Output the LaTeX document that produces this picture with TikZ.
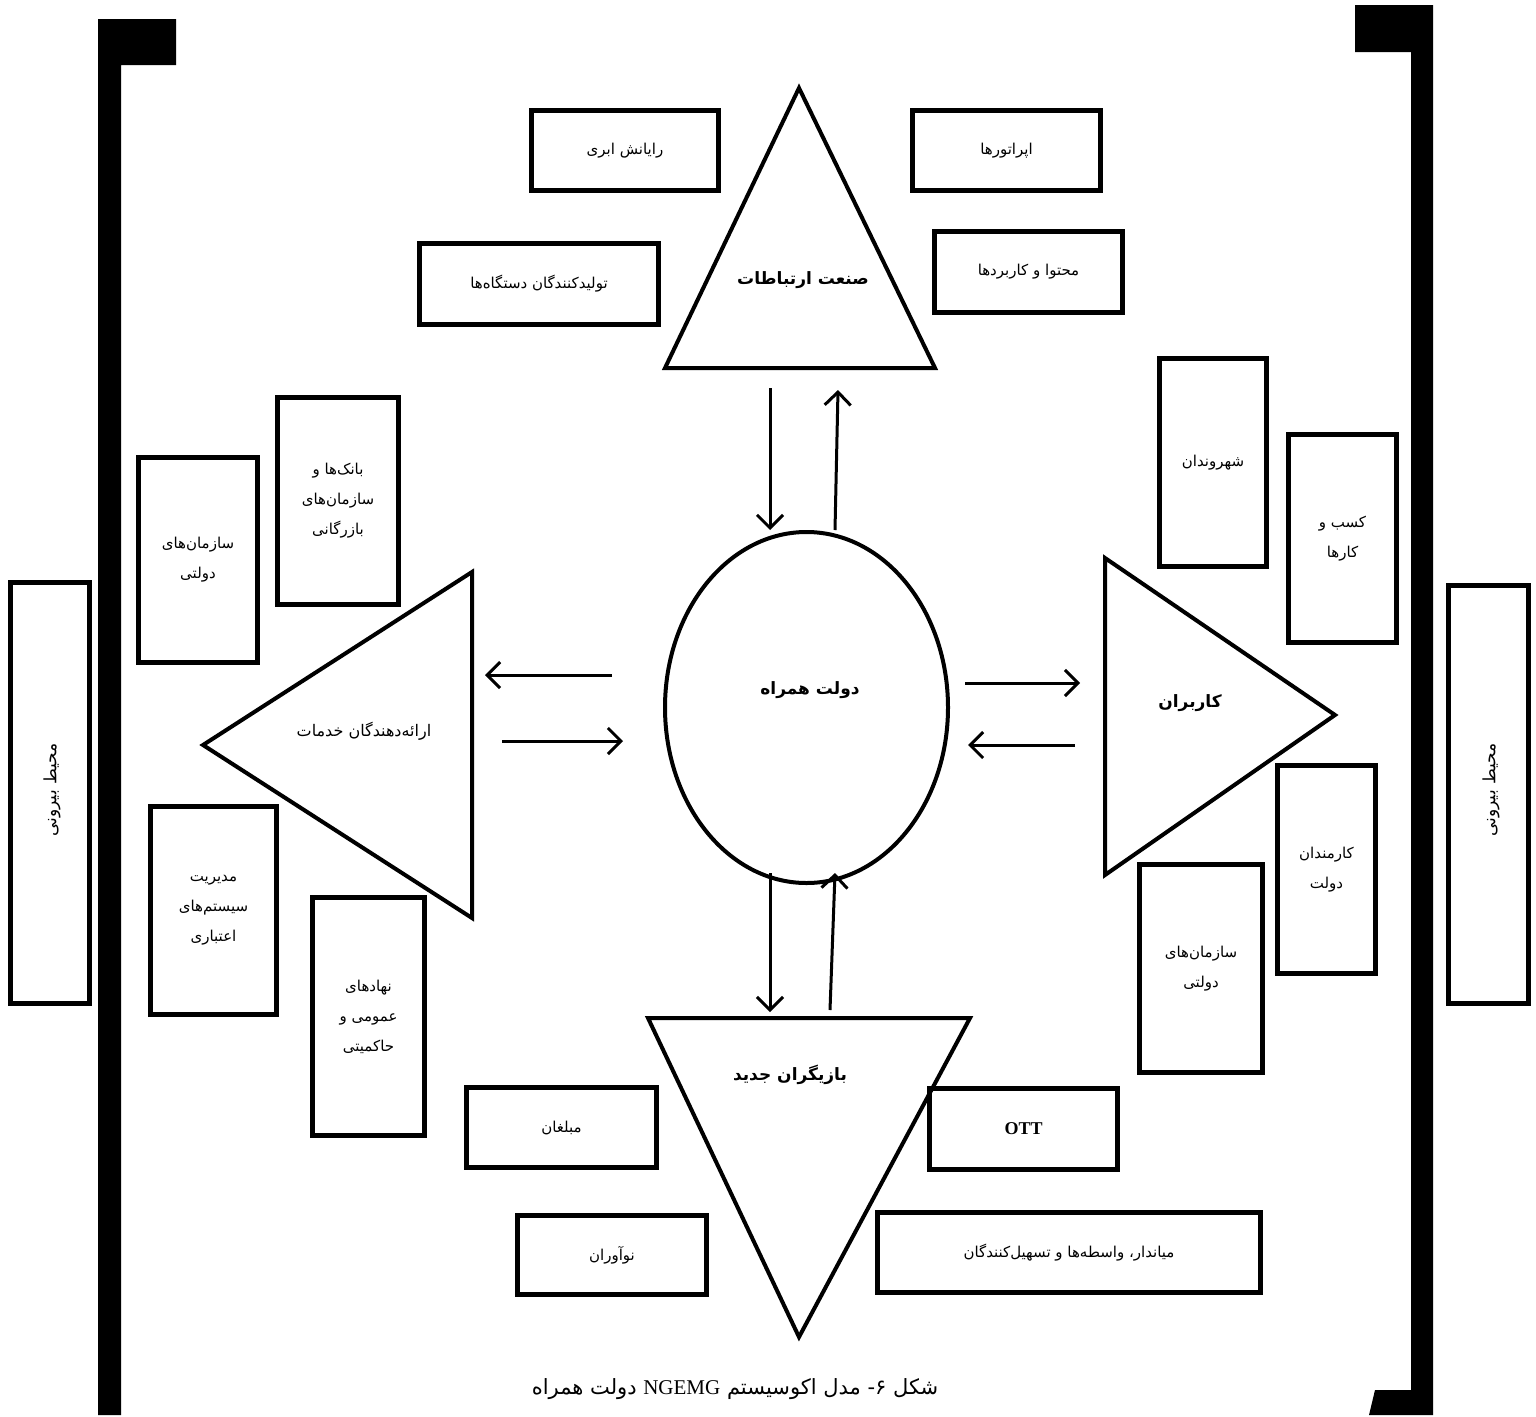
\documentclass[tikz,border=0pt]{standalone}
\usepackage{fontspec}
\usetikzlibrary{arrows.meta,shapes.geometric}
\TeXXeTstate=1
\newfontfamily\fa[Script=Arabic]{DejaVu Sans}
\newfontfamily\lat{Liberation Serif}
\newcommand{\fat}[1]{\beginR #1\endR}

\begin{document}
\begin{tikzpicture}[x=1pt,y=-1pt,>={Straight Barb[length=13pt,width=26pt]},line join=miter,
	box/.style={draw,line width=5.5pt,inner sep=0pt,align=center,font=\fa\fontsize{15}{30}\selectfont},
	tri/.style={draw,line width=4pt},
	link/.style={->,line width=3pt},
	lbl/.style={font=\fa\bfseries\fontsize{17}{20}\selectfont}]
	\useasboundingbox (0,0) rectangle (1536,1416);
	% frame
	\fill (98,19)--(176,19)--(176,65)--(121,65)--(121,1415)--(98,1415)--cycle;
	\fill (1355,5)--(1433,5)--(1433,1415)--(1369,1415)--(1375,1390)--(1411,1390)--(1411,52)--(1355,52)--cycle;
	\node[box,minimum width=79,minimum height=421] (envL) at (50,793) {};
	\node[box,minimum width=80,minimum height=418] (envR) at (1488.5,794.5) {};
	\node[font=\fa\fontsize{17}{20}\selectfont,rotate=90] (envLt) at (52,790) {\fat{محیط بیرونی}};
	\node[font=\fa\fontsize{17}{20}\selectfont,rotate=90] (envRt) at (1491,790) {\fat{محیط بیرونی}};
	% centre
	\node[ellipse,draw,line width=4pt,minimum width=283,minimum height=351] (mgov) at (806.5,707.5) {};
	\node[lbl] (mgovt) at (810,690) {\fat{دولت همراه}};
	% telecom
	\draw[tri] (799,88)--(935,368)--(665,368)--cycle;
	\node[lbl] (tele) at (803,280) {\fat{صنعت ارتباطات}};
	\node[box,minimum width=187,minimum height=80] (cloud) at (625,150.5) {\fat{رایانش ابری}};
	\node[box,minimum width=188,minimum height=80] (oper) at (1006.5,150.5) {\fat{اپراتورها}};
	\node[box,minimum width=239,minimum height=81] (device) at (539,284) {\fat{تولیدکنندگان دستگاه‌ها}};
	\node[box,minimum width=188,minimum height=81] (content) at (1028.5,272) {\fat{محتوا و کاربردها}};
	% providers
	\draw[tri] (203,745)--(472,572)--(472,918)--cycle;
	\node[font=\fa\fontsize{16}{20}\selectfont] (prov) at (364,731) {\fat{ارائه‌دهندگان خدمات}};
	\node[box,minimum width=119,minimum height=205] (govL) at (198,560) {\fat{سازمان‌های}\\\fat{دولتی}};
	\node[box,minimum width=121,minimum height=207] (bank) at (338,501) {\fat{بانک‌ها و}\\\fat{سازمان‌های}\\\fat{بازرگانی}};
	\node[box,minimum width=126,minimum height=208] (credit) at (213.5,910.5) {\fat{مدیریت}\\\fat{سیستم‌های}\\\fat{اعتباری}};
	\node[box,minimum width=112,minimum height=238] (public) at (368.5,1016.5) {\fat{نهادهای}\\\fat{عمومی و}\\\fat{حاکمیتی}};
	% users
	\draw[tri] (1105,558)--(1335,715)--(1105,875)--cycle;
	\node[lbl] (users) at (1190,703) {\fat{کاربران}};
	\node[box,minimum width=107,minimum height=208] (citizen) at (1213,462.5) {\fat{شهروندان}};
	\node[box,minimum width=108,minimum height=208] (biz) at (1342.5,538.5) {\fat{کسب و}\\\fat{کارها}};
	\node[box,minimum width=98,minimum height=208] (staff) at (1326.5,869.5) {\fat{کارمندان}\\\fat{دولت}};
	\node[box,minimum width=123,minimum height=208] (govR) at (1201,968.5) {\fat{سازمان‌های}\\\fat{دولتی}};
	% new players
	\draw[tri] (648,1018)--(970,1018)--(799,1337)--cycle;
	\node[lbl] (newp) at (790,1075) {\fat{بازیگران جدید}};
	\node[box,minimum width=190,minimum height=80] (promo) at (561.5,1127.5) {\fat{مبلغان}};
	\node[box,minimum width=188,minimum height=81,font=\lat\bfseries\fontsize{18}{20}\selectfont] (ott) at (1023.5,1129) {OTT};
	\node[box,minimum width=189,minimum height=79] (innov) at (612,1255) {\fat{نوآوران}};
	\node[box,minimum width=383,minimum height=80] (broker) at (1069,1252.5) {\fat{میاندار، واسطه‌ها و تسهیل‌کنندگان}};
	% flows
	\coordinate (a1) at (770,388); \coordinate (a2) at (770,530);
	\coordinate (b1) at (835,530); \coordinate (b2) at (838,390);
	\coordinate (c1) at (612,675); \coordinate (c2) at (485,675);
	\coordinate (d1) at (502,741); \coordinate (d2) at (623,741);
	\coordinate (e1) at (965,683); \coordinate (e2) at (1080,683);
	\coordinate (f1) at (1075,745); \coordinate (f2) at (968,745);
	\coordinate (g1) at (770,873); \coordinate (g2) at (770,1012);
	\coordinate (h1) at (830,1010); \coordinate (h2) at (835,873);
	\foreach \p/\q in {a1/a2,b1/b2,c1/c2,d1/d2,e1/e2,f1/f2,g1/g2,h1/h2}
		\draw[link] (\p)--(\q);
	\node[font=\fa\fontsize{21}{24}\selectfont] (cap) at (735,1389) {\beginR شکل ۶- مدل اکوسیستم \beginL{\lat NGEMG}\endL{} دولت همراه\endR};
\end{tikzpicture}
\end{document}
